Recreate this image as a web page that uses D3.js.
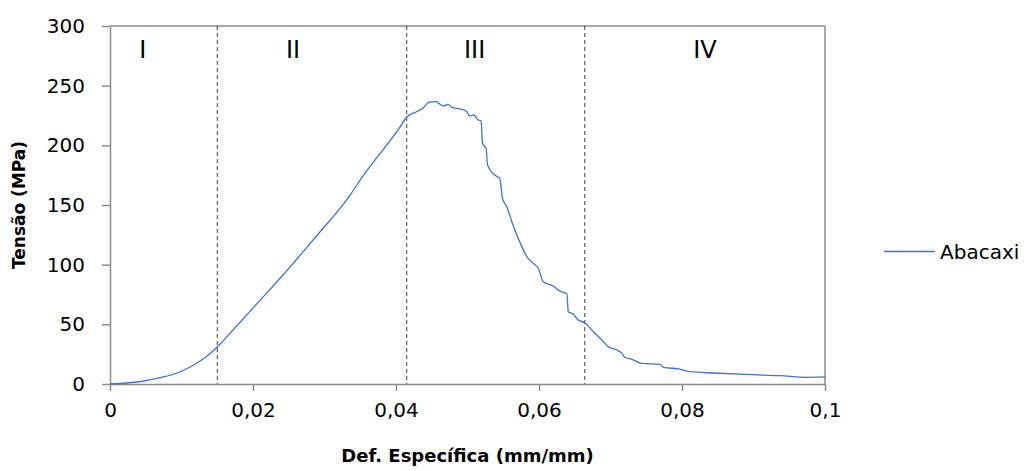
<!DOCTYPE html>
<html>
<head>
<meta charset="utf-8">
<script src="https://cdn.jsdelivr.net/npm/d3@7"></script>
<style>
  html, body { margin: 0; padding: 0; background: #fff; }
  svg { display: block; }
  text { font-family: "DejaVu Sans", sans-serif; fill: #000; }
</style>
</head>
<body>
<svg id="chart" width="1027" height="471"></svg>
<script>
// ---- data ----
const strain = [0, 0.0046, 0.0070, 0.0093, 0.0116, 0.0135, 0.0150, 0.0172, 0.0206, 0.0242, 0.0284, 0.0336, 0.0350,
  0.0406, 0.0415, 0.0429, 0.0438, 0.0446, 0.0456, 0.0460, 0.0466, 0.0473, 0.0478, 0.0492, 0.0499,
  0.0503, 0.0509, 0.0515, 0.0519, 0.0521, 0.0526, 0.0528, 0.0538, 0.0545, 0.0549, 0.0555, 0.0562,
  0.0569, 0.0576, 0.0583, 0.0592, 0.0599, 0.0606, 0.0620, 0.0629, 0.0639, 0.0641, 0.0648, 0.0655,
  0.0664, 0.0676, 0.0688, 0.0697, 0.0709, 0.0716, 0.0720, 0.0730, 0.0744, 0.0769, 0.0774, 0.0795,
  0.0811, 0.0844, 0.0900, 0.0937, 0.0974, 0.1000];
const stress = [0, 2.3, 5.3, 9.0, 15.5, 23.0, 31.0, 45.3, 67.6, 91.3, 120.7, 158.4, 171,
  215.6, 223.7, 228.2, 231.3, 236.1, 236.6, 235.2, 233, 234.4, 231.9, 230.2, 228.2,
  224.6, 225.4, 221.2, 220.6, 201.7, 197.5, 183.5, 175.1, 172.4, 155.6, 148.6, 136,
  124.9, 115.1, 106.7, 101.1, 97, 85.7, 82.1, 77.9, 75.4, 60.6, 58.4, 53.6,
  51.4, 43.8, 36.9, 31.3, 28.5, 25.7, 22.4, 20.7, 17.3, 16.5, 14, 12.6,
  10.3, 9.2, 7.8, 7.0, 5.6, 5.9];
const seriesName = "Abacaxi";
const xTicks = [0, 0.02, 0.04, 0.06, 0.08, 0.1];
const yTicks = [0, 50, 100, 150, 200, 250, 300];
const regionBounds = [0.015, 0.0415, 0.0664];
const regionLabels = ["I", "II", "III", "IV"];
const regionLabelX = [0.0046, 0.0256, 0.0510, 0.0832];
const xTitle = "Def. Específica (mm/mm)";
const yTitle = "Tensão (MPa)";

// ---- layout ----
const svg = d3.select("#chart");
const L = 110, R = 825, T = 26, B = 384;
const x = d3.scaleLinear().domain([0, 0.1]).range([L, R]);
const y = d3.scaleLinear().domain([0, 300]).range([B, T]);
const axisColor = "#8c8c8c";
const fmt = d => d === 0 ? "0" : String(d).replace(".", ",");

// frame (top and right)
svg.append("path")
  .attr("d", `M${L},${T}H${R}V${B}`)
  .attr("fill", "none").attr("stroke", axisColor).attr("stroke-width", 1.5);

// x axis
const gx = svg.append("g").attr("transform", `translate(0,${B})`)
  .call(d3.axisBottom(x).tickValues(xTicks).tickFormat(fmt).tickSize(7).tickSizeOuter(0).tickPadding(12));
gx.select(".domain").attr("stroke", axisColor).attr("stroke-width", 1.5);
gx.selectAll(".tick line").attr("stroke", axisColor).attr("stroke-width", 1.5);
gx.selectAll(".tick text").style("font-size", "20px").style("font-family", "DejaVu Sans").attr("fill", "#000");

// y axis
const gy = svg.append("g").attr("transform", `translate(${L},0)`)
  .call(d3.axisLeft(y).tickValues(yTicks).tickSize(8).tickSizeOuter(0).tickPadding(17));
gy.select(".domain").attr("stroke", axisColor).attr("stroke-width", 1.5);
gy.selectAll(".tick line").attr("stroke", axisColor).attr("stroke-width", 1.5);
gy.selectAll(".tick text").style("font-size", "20px").style("font-family", "DejaVu Sans").attr("fill", "#000");

// region dashed lines
svg.append("g").selectAll("line").data(regionBounds).join("line")
  .attr("x1", d => x(d)).attr("x2", d => x(d))
  .attr("y1", T).attr("y2", B)
  .attr("stroke", "#404040").attr("stroke-width", 1)
  .attr("stroke-dasharray", "4,3");

// region labels
svg.append("g").selectAll("text").data(regionLabels).join("text")
  .attr("x", (d, i) => x(regionLabelX[i]))
  .attr("y", 58)
  .attr("text-anchor", "middle")
  .style("font-size", "24px")
  .text(d => d);

// curve
const pts = strain.map((s, i) => [s, stress[i]]);
svg.append("path").datum(pts)
  .attr("d", d3.line().curve(d3.curveMonotoneX).x(d => x(d[0])).y(d => y(d[1])))
  .attr("fill", "none").attr("stroke", "#4472C4").attr("stroke-width", 1.3)
  .attr("stroke-linejoin", "round");

// axis titles
svg.append("text")
  .attr("x", (L + R) / 2).attr("y", 462)
  .attr("text-anchor", "middle")
  .style("font-size", "18px").style("font-weight", "bold")
  .text(xTitle);
svg.append("text")
  .attr("transform", `translate(25,${(T + B) / 2}) rotate(-90)`)
  .attr("text-anchor", "middle")
  .style("font-size", "17px").style("font-weight", "bold")
  .text(yTitle);

// legend
svg.append("line")
  .attr("x1", 884).attr("x2", 935).attr("y1", 251.5).attr("y2", 251.5)
  .attr("stroke", "#4472C4").attr("stroke-width", 1.3);
svg.append("text")
  .attr("x", 940).attr("y", 258.5)
  .style("font-size", "20px")
  .text(seriesName);
</script>
</body>
</html>
